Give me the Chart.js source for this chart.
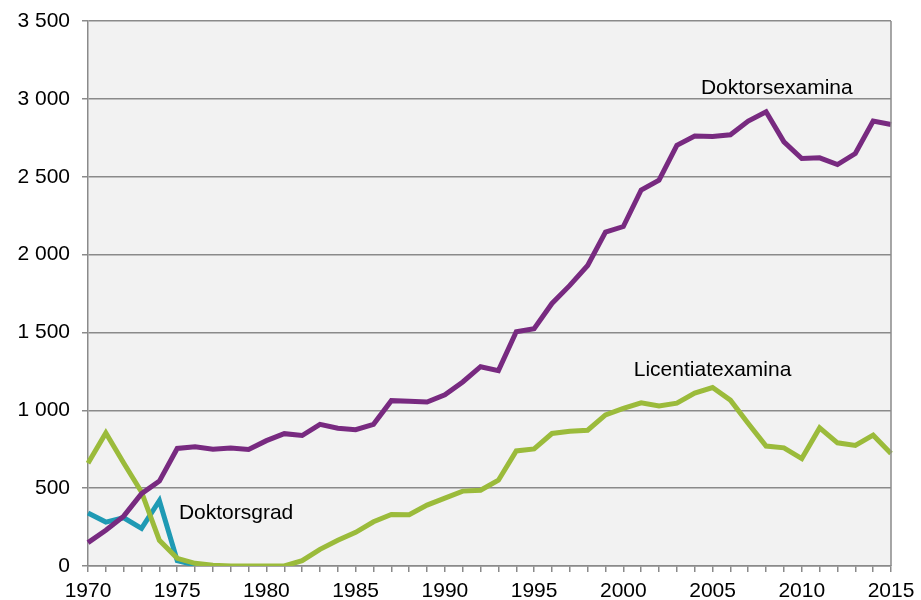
<!DOCTYPE html>
<html>
<head>
<meta charset="utf-8">
<script src="https://cdn.jsdelivr.net/npm/chart.js@4/dist/chart.umd.min.js"></script>
<style>
  html, body { margin: 0; padding: 0; background: #ffffff; }
  #wrap { width: 921px; height: 600px; position: relative; }
</style>
</head>
<body>
<div id="wrap"><canvas id="c" width="921" height="600"></canvas></div>
<script>
const years = [1970,1971,1972,1973,1974,1975,1976,1977,1978,1979,
               1980,1981,1982,1983,1984,1985,1986,1987,1988,1989,
               1990,1991,1992,1993,1994,1995,1996,1997,1998,1999,
               2000,2001,2002,2003,2004,2005,2006,2007,2008,2009,
               2010,2011,2012,2013,2014,2015];

const doktorsexamina = [150,230,320,465,545,755,765,750,758,748,
                        805,850,838,910,885,875,910,1062,1058,1053,
                        1100,1182,1280,1255,1504,1524,1686,1802,1930,2145,
                        2180,2415,2478,2702,2762,2758,2769,2857,2917,2724,
                        2617,2621,2578,2649,2857,2835];

const licentiatexamina = [660,855,662,475,165,49,17,5,0,0,
                          0,0,34,107,165,216,284,331,329,391,
                          436,481,487,551,739,752,851,866,872,970,
                          1012,1048,1027,1046,1110,1146,1065,915,770,759,
                          690,887,791,774,840,722];

const doktorsgrad = [340,282,310,242,419,34,7,0,null,null,
                     null,null,null,null,null,null,null,null,null,null,
                     null,null,null,null,null,null,null,null,null,null,
                     null,null,null,null,null,null,null,null,null,null,
                     null,null,null,null,null,null];

const yTicks = [0,500,1000,1500,2000,2500,3000,3500];

// series name labels: [text, year position, value position]
const seriesLabels = [
  ['Doktorsexamina', 2008.6, 3069],
  ['Licentiatexamina', 2005.0, 1258],
  ['Doktorsgrad', 1978.3, 340]
];

const GRID = '#8a8a8a';
const FONT = '"Liberation Sans", Arial, sans-serif';

const plotBg = {
  id: 'plotBg',
  beforeDraw(chart) {
    const {ctx, chartArea: a} = chart;
    ctx.save();
    ctx.fillStyle = '#f2f2f2';
    ctx.fillRect(a.left, a.top, a.right - a.left, a.bottom - a.top);
    ctx.restore();
  },
  afterDatasetsDraw(chart) {
    const {ctx, chartArea: a, scales} = chart;
    ctx.save();
    ctx.strokeStyle = GRID;
    ctx.lineWidth = 1.5;
    ctx.beginPath();
    ctx.moveTo(a.right, a.top);
    ctx.lineTo(a.right, a.bottom);
    ctx.stroke();
    ctx.fillStyle = '#000';
    ctx.font = '21px ' + FONT;
    ctx.textAlign = 'center';
    ctx.textBaseline = 'middle';
    seriesLabels.forEach(([t, yr, v]) => {
      const x = scales.x.getPixelForValue(yr - years[0]);
      const y = scales.y.getPixelForValue(v);
      ctx.fillText(t, x, y);
    });
    ctx.restore();
  }
};

new Chart(document.getElementById('c'), {
  type: 'line',
  data: {
    labels: years,
    datasets: [
      { label: 'Doktorsexamina', data: doktorsexamina, borderColor: '#782a80', borderWidth: 5, pointRadius: 0, tension: 0, spanGaps: false },
      { label: 'Licentiatexamina', data: licentiatexamina, borderColor: '#9bbb3b', borderWidth: 5, pointRadius: 0, tension: 0 },
      { label: 'Doktorsgrad', data: doktorsgrad, borderColor: '#1f9ab4', borderWidth: 5, pointRadius: 0, tension: 0, spanGaps: false }
    ]
  },
  options: {
    responsive: false,
    animation: false,
    devicePixelRatio: 1,
    layout: { padding: { left: 0, right: 30, top: 21, bottom: 0 } },
    plugins: { legend: { display: false }, tooltip: { enabled: false } },
    scales: {
      x: {
        type: 'category',
        offset: false,
        border: { display: true, color: GRID, width: 1.5 },
        grid: { display: true, drawOnChartArea: false, drawTicks: true, tickLength: 6, color: GRID, lineWidth: 1.5 },
        ticks: {
          autoSkip: false, maxRotation: 0, minRotation: 0, padding: 7,
          color: '#000', font: { family: FONT, size: 21 },
          callback: function(v, i) { const y = years[i]; return (y % 5 === 0) ? String(y) : ''; }
        },
        afterFit(s) { s.height = 34; s.paddingLeft = 0; s.paddingRight = 0; }
      },
      y: {
        min: 0, max: 3500,
        border: { display: true, color: GRID, width: 1.5 },
        grid: { color: GRID, lineWidth: 1.5, tickLength: 6, drawTicks: true },
        afterBuildTicks(s) { s.ticks = yTicks.map(v => ({ value: v })); },
        ticks: {
          padding: 12, color: '#000', font: { family: FONT, size: 21 },
          callback: v => v >= 1000 ? Math.floor(v / 1000) + ' ' + String(v % 1000).padStart(3, '0') : String(v)
        },
        afterFit(s) { s.width = 88; s.paddingTop = 0; s.paddingBottom = 0; }
      }
    }
  },
  plugins: [plotBg]
});
</script>
</body>
</html>
